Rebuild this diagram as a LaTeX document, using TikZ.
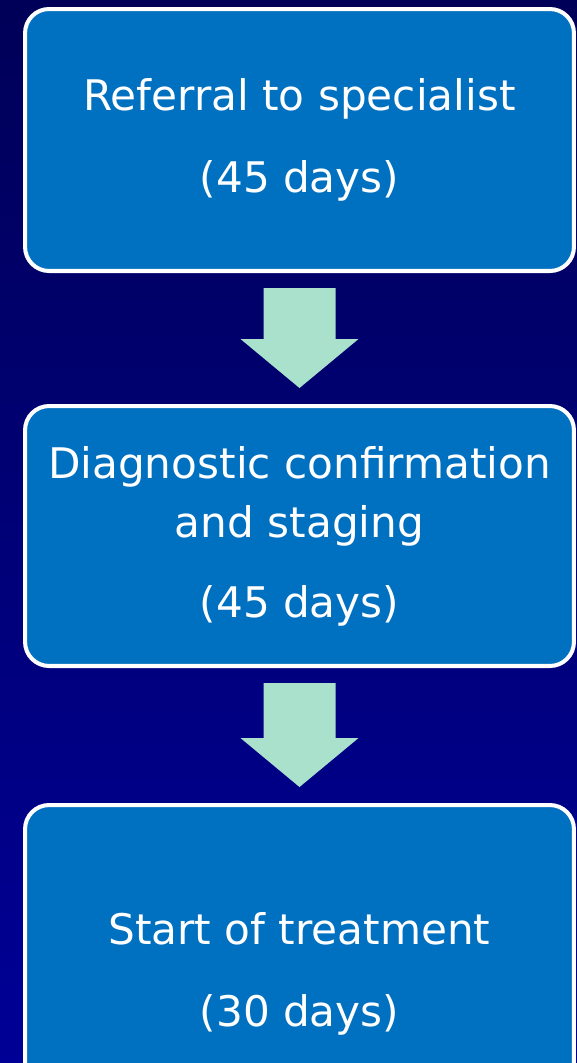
\documentclass[tikz,border=0pt]{standalone}
\usepackage{fontspec}
\setmainfont{DejaVu Sans}
\usetikzlibrary{calc}
\definecolor{navytop}{RGB}{0,0,88}
\definecolor{navybottom}{RGB}{0,0,150}
\definecolor{boxblue}{RGB}{0,112,192}
\definecolor{mint}{RGB}{170,225,204}

\begin{document}
\begin{tikzpicture}[x=0.02cm,y=-0.02cm,
    stagebox/.style={draw=white,line width=2.3pt,fill=boxblue,rounded corners=0.48cm,
      minimum width=10.98cm,text=white,align=center,
      font=\fontsize{24}{34}\selectfont}]
  \useasboundingbox (0,0) rectangle (577,1063);
  \clip (0,0) rectangle (577,1063);
  \shade[top color=navytop,bottom color=navybottom] (0,0) rectangle (577,1063);
  % the three stages
  \node[stagebox,minimum height=5.24cm] (referral) at (299.5,140)
    {Referral to specialist\\[12.5pt](45 days)};
  \node[stagebox,minimum height=5.2cm] (diagnosis) at (299.5,536)
    {Diagnostic confirmation\\and staging\\[11pt](45 days)};
  \node[stagebox,minimum height=6.76cm] (treatment) at (299.5,974)
    {Start of treatment\\[13pt](30 days)};
  % block arrows between stages
  \foreach \from/\to in {referral/diagnosis,diagnosis/treatment}{
    \coordinate (shafttop) at ($(\from.south)+(0,15)$);
    \coordinate (arrowtip) at ($(\to.north)+(0,-16)$);
    \fill[mint] ($(shafttop)+(-36,0)$) -- ($(shafttop)+(36,0)$)
      -- ($(arrowtip)+(36,-49)$) -- ($(arrowtip)+(59,-49)$) -- (arrowtip)
      -- ($(arrowtip)+(-59,-49)$) -- ($(arrowtip)+(-36,-49)$) -- cycle;
  }
\end{tikzpicture}
\end{document}
